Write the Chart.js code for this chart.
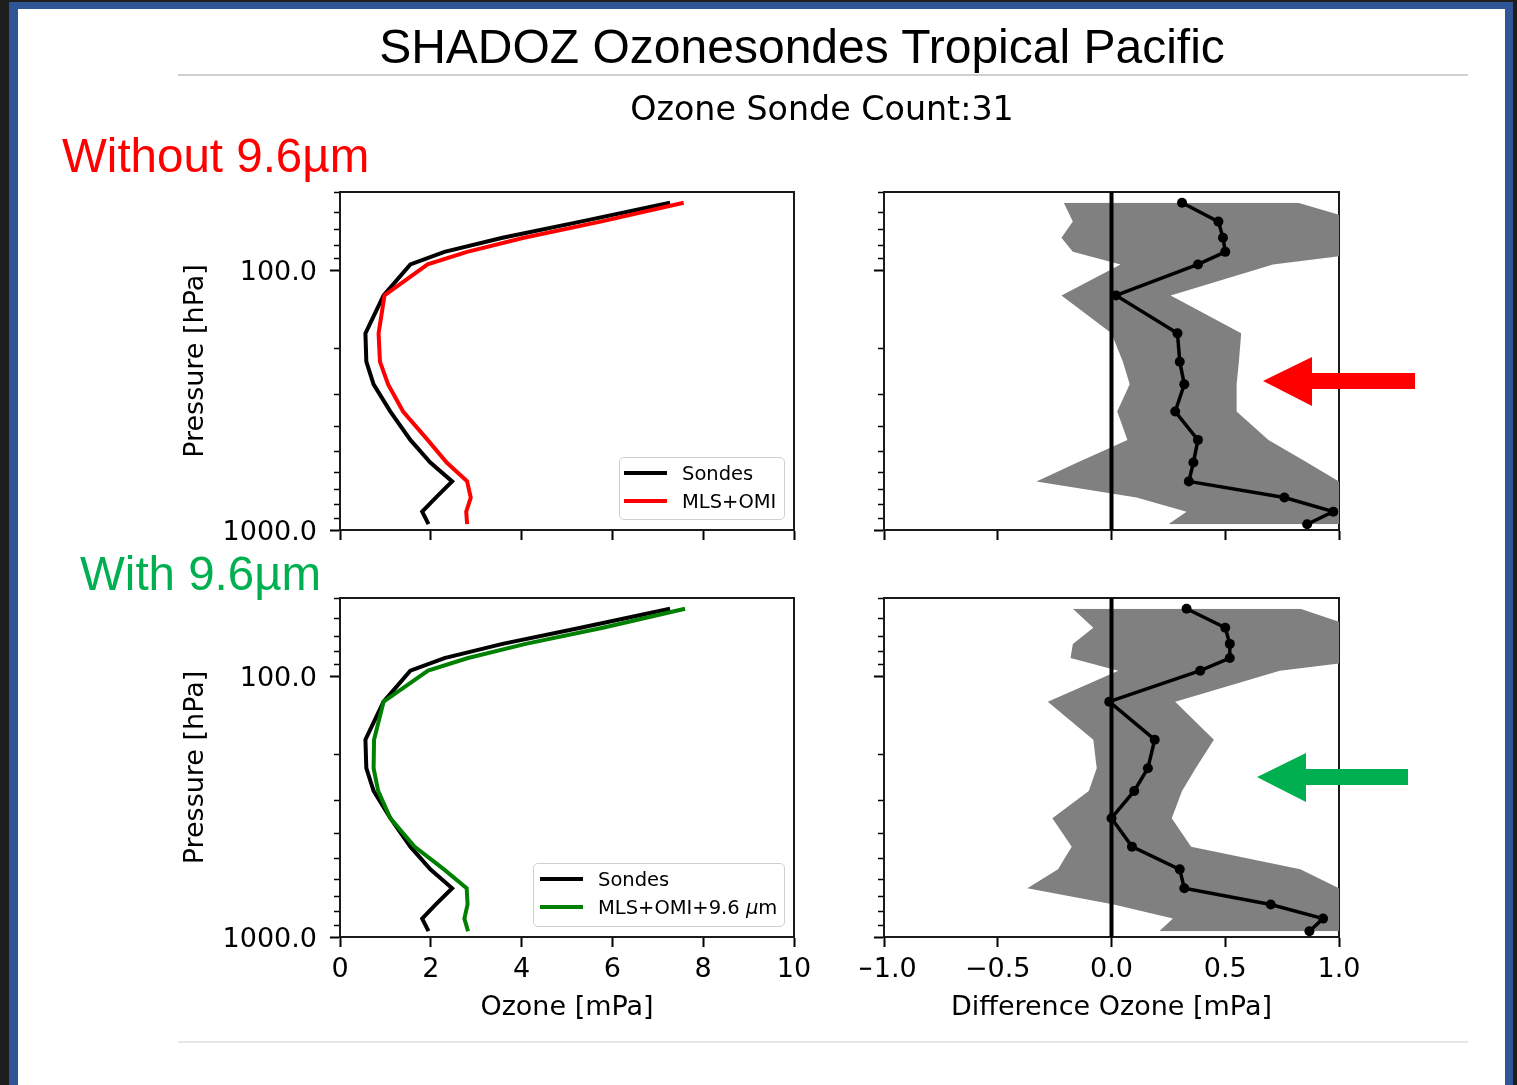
<!DOCTYPE html>
<html>
<head>
<meta charset="utf-8">
<script src="https://cdn.jsdelivr.net/npm/chart.js@4.4.0/dist/chart.umd.min.js"></script>
<style>
  html, body { margin: 0; padding: 0; }
  body { width: 1517px; height: 1085px; position: relative; overflow: hidden; background: #1e1e1e; }
  #frame { position: absolute; left: 9px; top: 2px; width: 1504px; height: 1083px; background: #2f5597; }
  #page { position: absolute; left: 18px; top: 9px; width: 1487px; height: 1076px; background: #fff; }
  canvas { position: absolute; }
  #cTL { left: 170px; top: 170px; }
  #cBL { left: 170px; top: 576px; }
  #cTR { left: 860px; top: 170px; }
  #cBR { left: 860px; top: 576px; }
  #overlay { position: absolute; left: 0; top: 0; pointer-events: none; }
  .legend { position: absolute; box-sizing: border-box; border: 1.5px solid #d0d0d0; border-radius: 5px;
            background: rgba(255,255,255,0.85); font-family: "DejaVu Sans"; font-size: 19.5px; color: #000; padding-top: 1px; }
  .lg-row { height: 28px; display: flex; align-items: center; white-space: nowrap; }
  .lg-line { display: inline-block; width: 43px; height: 4px; margin-right: 15px; }
  #legTL { left: 619px; top: 457px; width: 166px; height: 63px; }
  #legTL .lg-line { margin-left: 4px; }
  #legBL { left: 533px; top: 863px; width: 252px; height: 64px; }
  #legBL .lg-line { margin-left: 6px; }
</style>
</head>
<body>
<div id="frame"></div>
<div id="page"></div>
<canvas id="cTL" width="650" height="380"></canvas>
<canvas id="cBL" width="650" height="464"></canvas>
<canvas id="cTR" width="520" height="380"></canvas>
<canvas id="cBR" width="520" height="464"></canvas>
<div id="legTL" class="legend"></div>
<div id="legBL" class="legend"></div>
<svg id="overlay" width="1517" height="1085">
  <text x="802" y="63" text-anchor="middle" font-family="Liberation Sans" font-size="48" fill="#000">SHADOZ Ozonesondes Tropical Pacific</text>
  <line x1="178" y1="75" x2="1468" y2="75" stroke="#cfcfcf" stroke-width="2"/>
  <text x="822" y="120" text-anchor="middle" font-family="DejaVu Sans" font-size="33.3" fill="#000">Ozone Sonde Count:31</text>
  <text x="62" y="172" font-family="Liberation Sans" font-size="47.5" fill="#ff0000">Without 9.6µm</text>
  <text x="80" y="590" font-family="Liberation Sans" font-size="47.5" fill="#00b050">With 9.6µm</text>
  <polygon points="1263,381 1312,357 1312,373 1415,373 1415,389 1312,389 1312,406" fill="#ff0000"/>
  <polygon points="1257,777 1306,753 1306,769 1408,769 1408,785 1306,785 1306,802" fill="#00b050"/>
  <line x1="178" y1="1042" x2="1468" y2="1042" stroke="#e0e0e0" stroke-width="1.5"/>
</svg>
<script>
// pressure levels (hPa) of the layer means
const pressureLevels = [55, 65, 75, 85, 95, 125, 175, 225, 275, 350, 450, 550, 650, 750, 850, 950];

// ozone partial pressure profiles (mPa)
const sondesOzone   = [7.27, 5.30, 3.58, 2.30, 1.55, 0.96, 0.56, 0.58, 0.74, 1.11, 1.55, 1.99, 2.47, 2.11, 1.81, 1.95];
const mlsOmiOzone   = [7.57, 5.74, 4.05, 2.80, 1.93, 0.98, 0.85, 0.88, 1.06, 1.39, 1.93, 2.35, 2.80, 2.88, 2.78, 2.80];
const mlsOmi96Ozone = [7.60, 5.79, 4.09, 2.82, 1.94, 0.96, 0.75, 0.74, 0.84, 1.11, 1.64, 2.29, 2.79, 2.81, 2.74, 2.82];

// differences (retrieval - sondes), mean and spread
const diffMean   = [0.31, 0.47, 0.49, 0.50, 0.38, 0.02, 0.29, 0.30, 0.32, 0.28, 0.38, 0.36, 0.34, 0.76, 0.975, 0.86];
const diffLow    = [-0.21, -0.17, -0.22, -0.17, 0.04, -0.22, 0.00, 0.05, 0.08, 0.025, 0.07, -0.15, -0.33, 0.11, 0.33, 0.25];
const diffHigh   = [0.82, 1.10, 1.21, 1.16, 0.71, 0.26, 0.57, 0.56, 0.55, 0.55, 0.69, 0.86, 1.00, 1.41, 1.62, 1.46];
const diff96Mean = [0.33, 0.50, 0.52, 0.52, 0.39, -0.01, 0.19, 0.16, 0.10, 0.00, 0.09, 0.30, 0.32, 0.70, 0.93, 0.87];
const diff96Low  = [-0.17, -0.08, -0.17, -0.18, 0.03, -0.28, -0.08, -0.065, -0.10, -0.26, -0.175, -0.235, -0.37, 0.01, 0.27, 0.21];
const diff96High = [0.83, 1.08, 1.21, 1.20, 0.74, 0.28, 0.45, 0.37, 0.31, 0.265, 0.35, 0.83, 1.00, 1.40, 1.60, 1.53];

// axis ticks
const majorPressureTicks = [100, 1000];
const minorPressureTicks = [50, 60, 70, 80, 90, 200, 300, 400, 500, 600, 700, 800, 900];
const ozoneTicks = [0, 2, 4, 6, 8, 10];
const diffTicks = [-1, -0.5, 0, 0.5, 1];
const zeroLinePressure = [50, 1000];

const FONT = "DejaVu Sans";
const INK = "#000";
const FRAME = "#1a1a1a";

function pts(values) {
    return values.map((v, i) => ({ x: v, y: pressureLevels[i] }));
}

function fixedTicks(values) {
    return scale => { scale.ticks = values.map(v => ({ value: v })); };
}

function buildScales(cfg) {
    const hidden = { display: false };
    return {
        x: {
            type: "linear", position: "bottom", min: cfg.xMin, max: cfg.xMax,
            afterBuildTicks: fixedTicks(cfg.xTicks),
            afterFit: s => { s.height = cfg.xHeight; s.paddingLeft = 0; s.paddingRight = 0; },
            grid: { drawOnChartArea: false, tickLength: 10, tickWidth: 2, tickColor: INK },
            border: { display: true, color: FRAME, width: 2 },
            ticks: { display: cfg.xLabels, autoSkip: false, maxRotation: 0, padding: 7, color: INK,
                     font: { family: FONT, size: 27 }, callback: cfg.xFormat },
            title: { display: !!cfg.xTitle, text: cfg.xTitle || "", color: INK,
                     font: { family: FONT, size: 27 }, padding: { top: 0, bottom: 0 } }
        },
        y: {
            type: "logarithmic", position: "left", weight: 1, min: 50, max: 1000, reverse: true,
            afterBuildTicks: fixedTicks(majorPressureTicks),
            afterFit: s => { s.width = cfg.yWidth; s.paddingTop = 0; s.paddingBottom = 0; },
            grid: { drawOnChartArea: false, tickLength: 10, tickWidth: 2, tickColor: INK },
            border: { display: true, color: FRAME, width: 2 },
            ticks: { display: cfg.yLabels, autoSkip: false, padding: 13, labelOffset: 3, color: INK,
                     font: { family: FONT, size: 27 }, callback: v => Number(v).toFixed(1) },
            title: { display: cfg.yLabels, text: "Pressure [hPa]", color: INK,
                     font: { family: FONT, size: 27 }, padding: { top: 0, bottom: 0 } }
        },
        yMinor: {
            type: "logarithmic", position: "left", weight: 0, min: 50, max: 1000, reverse: true,
            afterBuildTicks: fixedTicks(minorPressureTicks),
            afterFit: s => { s.width = 0; s.paddingTop = 0; s.paddingBottom = 0; },
            grid: { drawOnChartArea: false, tickLength: 6, tickWidth: 1.5, tickColor: INK },
            border: hidden, ticks: hidden
        },
        xTop: {
            type: "linear", position: "top",
            afterFit: s => { s.height = 0; },
            grid: hidden, ticks: hidden,
            border: { display: true, color: FRAME, width: 2 }
        },
        yRight: {
            type: "linear", position: "right",
            afterFit: s => { s.width = 0; },
            grid: hidden, ticks: hidden,
            border: { display: true, color: FRAME, width: 2 }
        }
    };
}

function makeChart(id, datasets, scaleCfg, padding) {
    return new Chart(document.getElementById(id), {
        type: "line",
        data: { datasets: datasets },
        options: {
            indexAxis: "y",
            responsive: false,
            animation: false,
            events: [],
            layout: { padding: padding },
            plugins: { legend: { display: false }, tooltip: { enabled: false } },
            scales: buildScales(scaleCfg)
        }
    });
}

function profileSets(retrieval, label, color) {
    return [
        { label: label, data: pts(retrieval), borderColor: color, borderWidth: 4, pointRadius: 0,
          fill: false, order: 0, xAxisID: "x", yAxisID: "y", showInLegend: true },
        { label: "Sondes", data: pts(sondesOzone), borderColor: "#000", borderWidth: 4, pointRadius: 0,
          fill: false, order: 1, xAxisID: "x", yAxisID: "y", showInLegend: true }
    ];
}

function diffSets(mean, low, high) {
    return [
        { label: "mean difference", data: pts(mean), borderColor: "#000", backgroundColor: "#000",
          borderWidth: 3.5, pointRadius: 5, pointBorderWidth: 0, fill: false, xAxisID: "x", yAxisID: "y" },
        { label: "zero", data: zeroLinePressure.map(p => ({ x: 0, y: p })), borderColor: "#000",
          borderWidth: 4, pointRadius: 0, fill: false, xAxisID: "x", yAxisID: "y" },
        { label: "low", data: pts(low), borderColor: "rgba(0,0,0,0)", borderWidth: 0, pointRadius: 0,
          fill: false, xAxisID: "x", yAxisID: "y" },
        { label: "high", data: pts(high), borderColor: "rgba(0,0,0,0)", borderWidth: 0, pointRadius: 0,
          backgroundColor: "#808080", fill: 2, xAxisID: "x", yAxisID: "y" }
    ];
}

function buildLegend(chart, elId) {
    const box = document.getElementById(elId);
    const items = chart.data.datasets.filter(d => d.showInLegend).sort((a, b) => b.order - a.order);
    items.forEach(d => {
        const row = document.createElement("div");
        row.className = "lg-row";
        const swatch = document.createElement("span");
        swatch.className = "lg-line";
        swatch.style.background = d.borderColor;
        const text = document.createElement("span");
        text.innerHTML = d.label.replace("μ", "<i>μ</i>");
        row.appendChild(swatch);
        row.appendChild(text);
        box.appendChild(row);
    });
}

const ozoneFormat = v => String(v);
const diffFormat = v => (v < 0 ? "\u2212" : "") + Math.abs(v).toFixed(1);

const leftTop = { xMin: 0, xMax: 10, xTicks: ozoneTicks, xFormat: ozoneFormat, xLabels: false, xHeight: 12, yLabels: true, yWidth: 160 };
const leftBottom = Object.assign({}, leftTop, { xLabels: true, xHeight: 87, xTitle: "Ozone [mPa]" });
const rightTop = { xMin: -1, xMax: 1, xTicks: diffTicks, xFormat: diffFormat, xLabels: false, xHeight: 12, yLabels: false, yWidth: 24 };
const rightBottom = Object.assign({}, rightTop, { xLabels: true, xHeight: 87, xTitle: "Difference Ozone [mPa]" });

const chartTL = makeChart("cTL", profileSets(mlsOmiOzone, "MLS+OMI", "#ff0000"), leftTop,
    { left: 10, top: 22, right: 26, bottom: 8 });
const chartBL = makeChart("cBL", profileSets(mlsOmi96Ozone, "MLS+OMI+9.6 μm", "#008000"), leftBottom,
    { left: 10, top: 22, right: 26, bottom: 16 });
makeChart("cTR", diffSets(diffMean, diffLow, diffHigh), rightTop,
    { left: 0, top: 22, right: 41, bottom: 8 });
makeChart("cBR", diffSets(diff96Mean, diff96Low, diff96High), rightBottom,
    { left: 0, top: 22, right: 41, bottom: 16 });

buildLegend(chartTL, "legTL");
buildLegend(chartBL, "legBL");
</script>
</body>
</html>
